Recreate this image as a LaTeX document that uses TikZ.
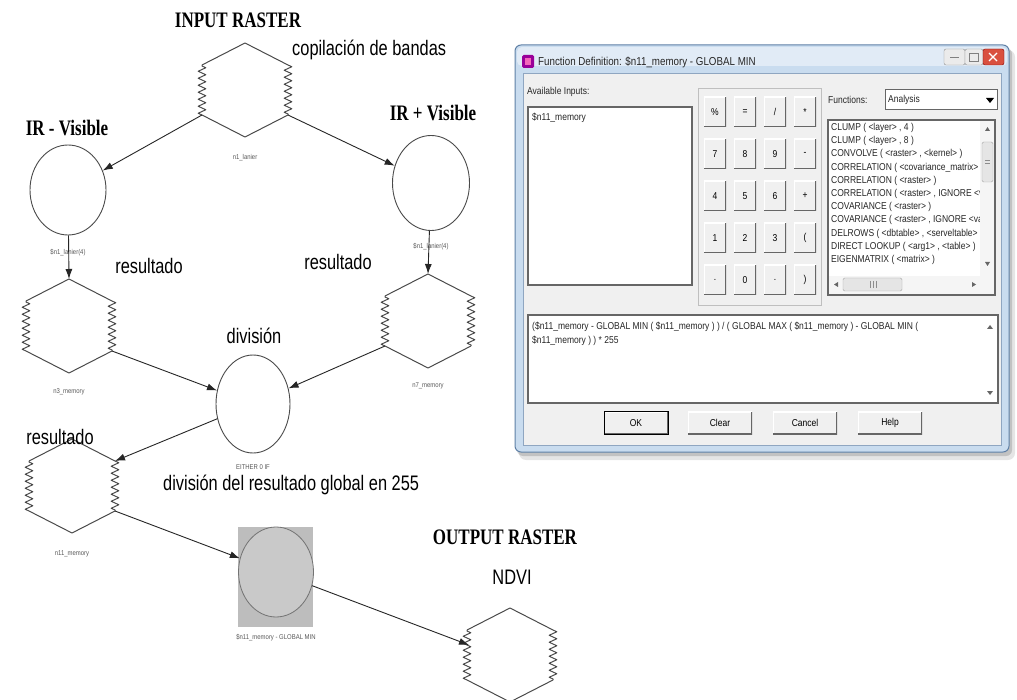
\documentclass[tikz,border=0pt]{standalone}
\usepackage{fontspec}
\setmainfont{Liberation Serif}
\newfontfamily\narrow[FakeStretch=0.78]{Liberation Sans}
\newfontfamily\uif[FakeStretch=0.85]{Liberation Sans}
\usetikzlibrary{shapes.geometric,arrows.meta,decorations.pathmorphing}
\definecolor{hexc}{HTML}{4A4A4A}
\definecolor{frameblue}{HTML}{C9DCEF}
\definecolor{frameline}{HTML}{5F80A6}
\definecolor{client}{HTML}{F0F0F0}
\definecolor{closered}{HTML}{D9503F}
\definecolor{gfill}{HTML}{BDBDBD}
\definecolor{efill}{HTML}{C9C9C9}
\tikzset{
  hexline/.style={draw=hexc, line width=1pt, line join=round},
  zz/.style={decorate, decoration={zigzag, segment length=7pt, amplitude=3.8pt}},
  raster/.pic={
    \coordinate (-t) at (0,-47);
    \coordinate (-b) at (0,47);
    \coordinate (-ul) at (-43,-25);
    \coordinate (-ur) at (43,-25);
    \coordinate (-ll) at (-43,25);
    \coordinate (-lr) at (43,25);
    \coordinate (-lin) at (-41,-10);
    \draw[hexline] (-43,-25) -- (0,-47) -- (43,-25);
    \draw[hexline,zz] (43,-25) -- (43,25);
    \draw[hexline] (43,25) -- (0,47) -- (-43,25);
    \draw[hexline,zz] (-43,25) -- (-43,-25);
  },
  circ/.style={ellipse, draw=hexc, line width=0.9pt, inner sep=0pt},
  arr/.style={draw=black!85, line width=0.9pt, -{Latex[length=10pt,width=7pt]}},
  ttl/.style={font=\fontsize{17}{20}\selectfont\bfseries, inner sep=0pt},
  nar/.style={font=\narrow\fontsize{21}{24}\selectfont, inner sep=0pt},
  sml/.style={font=\uif\fontsize{7}{8}\selectfont, text=black!65, inner sep=0pt},
  ui/.style={font=\uif\fontsize{10}{12}\selectfont, inner sep=0pt, text=black!85},
  key/.style={font=\uif\fontsize{10}{12}\selectfont, minimum width=22pt, minimum height=30pt,
    inner sep=0pt, fill=client,
    path picture={
      \draw[white, line width=2pt] (path picture bounding box.south west) -- (path picture bounding box.north west) -- (path picture bounding box.north east);
      \draw[black!60, line width=2.4pt] (path picture bounding box.south west) -- (path picture bounding box.south east) -- (path picture bounding box.north east);}},
  btn/.style={font=\uif\fontsize{10}{12}\selectfont, minimum width=64pt, minimum height=23pt,
    inner sep=0pt, fill=client,
    path picture={
      \draw[white, line width=2pt] (path picture bounding box.south west) -- (path picture bounding box.north west) -- (path picture bounding box.north east);
      \draw[black!60, line width=2.4pt] (path picture bounding box.south west) -- (path picture bounding box.south east) -- (path picture bounding box.north east);}},
  box/.style={draw=black!60, line width=1.3pt, fill=white},
}
\begin{document}
\begin{tikzpicture}[x=1pt,y=-1pt]
\useasboundingbox (0,0) rectangle (1017,700);
\clip (0,0) rectangle (1017,700);
\fill[white] (0,0) rectangle (1017,700);

% ---------------- model diagram ----------------
\pic (inr) at (245,90) {raster};
\pic (n3) at (69,326) {raster};
\pic (n7) at (428,321) {raster};
\pic (n11) at (72,486) {raster};
\pic (ndvi) at (510,655) {raster};

\node[circ, minimum width=76pt, minimum height=90pt] (irv) at (68,190) {};
\node[circ, minimum width=77pt, minimum height=95pt] (irp) at (431,183) {};
\node[circ, minimum width=74pt, minimum height=98pt] (div) at (253,404) {};
\node[fill=gfill, minimum width=75pt, minimum height=100pt, inner sep=0pt] (gmin) at (275.5,577) {};
\node[ellipse, fill=efill, draw=black!55, line width=0.8pt, inner sep=0pt, minimum width=75pt, minimum height=90pt] (gminE) at (276,572) {};

% small labels
\node[sml] (l1) at (245,158) {n1\_lanier};
\node[sml] (l2) at (68,253) {\$n1\_lanier(4)};
\node[sml] (l3) at (431,247) {\$n1\_lanier(4)};
\node[sml] (l4) at (69,392) {n3\_memory};
\node[sml] (l5) at (428,386) {n7\_memory};
\node[sml] (l6) at (253,467) {EITHER 0 IF};
\node[sml] (l7) at (72,554) {n11\_memory};
\node[sml] (l8) at (276,638) {\$n11\_memory - GLOBAL MIN};

% titles
\node[ttl] (tin) at (238,20) {\scalebox{1}[1.3]{INPUT RASTER}};
\node[ttl] (tirv) at (67,128) {\scalebox{1}[1.3]{IR - Visible}};
\node[ttl] (tirp) at (433,113) {\scalebox{1}[1.3]{IR + Visible}};
\node[ttl] (tout) at (505,537) {\scalebox{1}[1.3]{OUTPUT RASTER}};

% annotations
\node[nar, anchor=west] (tcop) at (292,50) {copilación de bandas};
\node[nar] (tres1) at (149,266) {resultado};
\node[nar] (tres2) at (338,262) {resultado};
\node[nar] (tdiv) at (254,336) {división};
\node[nar] (tres3) at (60,437) {resultado};
\node[nar, anchor=west] (tglob) at (163,485) {división del resultado global en 255};
\node[nar] (tndvi) at (512,577) {NDVI};

% connectors
\draw[arr] (inr-ll) -- (irv);
\draw[arr] (inr-lr) -- (irp);
\draw[arr] (irv) -- (n3-t);
\draw[arr] (irp) -- (n7-t);
\draw[arr] (n3-lr) -- (div);
\draw[arr] (n7-ll) -- (div);
\draw[arr] (div) -- (n11-ur);
\draw[arr] (n11-lr) -- (gminE);
\draw[arr] (gminE) -- (ndvi-lin);

% ---------------- dialog window ----------------
\fill[black, opacity=0.10, rounded corners=7pt] (519,50) rectangle (1015,460);
\fill[black, opacity=0.15, rounded corners=6pt] (517,48) rectangle (1012,456);
\draw[fill=frameblue, draw=frameline, line width=1pt, rounded corners=6pt] (515,45) rectangle (1009,452);
\fill[white, opacity=0.45, rounded corners=5pt] (517,47) rectangle (1007,66);
% title icon and text
\fill[violet!80!magenta, rounded corners=1.5pt] (522,55) rectangle (534,68);
\fill[magenta!60!white] (525,58) rectangle (531,65);
\node[font=\uif\fontsize{11.5}{13}\selectfont, inner sep=0pt, anchor=west, text=black!85] (ttitle) at (538,62) {Function Definition: \$n11\_memory - GLOBAL MIN};
% title buttons
\draw[fill=black!8, draw=black!45, rounded corners=2pt] (944,49) rectangle (965,65);
\draw[fill=black!8, draw=black!45, rounded corners=2pt] (965,49) rectangle (983,65);
\draw[fill=closered, draw=red!50!black, rounded corners=2pt] (983,49) rectangle (1004,65);
\draw[black!50, line width=1pt] (950,58) -- (959,58);
\draw[black!50, line width=0.8pt] (969,53) rectangle (978,61);
\draw[white, line width=1.2pt] (989,53) -- (997,61) (989,61) -- (997,53);
% client area
\draw[fill=client, draw=frameline!70] (523,73) rectangle (1001,445);

% available inputs
\node[ui, anchor=west] (tavail) at (527,92) {Available Inputs:};
\draw[box] (528,107) rectangle (692,285);
\node[ui, anchor=west] (tin1) at (532,118) {\$n11\_memory};

% calculator panel
\draw[draw=black!25, fill=client] (698,88) rectangle (821,305);
\foreach \lab [count=\i from 0] in {{\%},{=},{/},{*},{7},{8},{9},{-},{4},{5},{6},{+},{1},{2},{3},{(},{.},{0},{.},{)}} {
  \pgfmathtruncatemacro\col{mod(\i,4)}
  \pgfmathtruncatemacro\row{div(\i,4)}
  \node[key] (k\i) at ({715+30*\col},{112+42*\row}) {\lab};
}

% functions
\node[ui, anchor=west] (tfun) at (828,100) {Functions:};
\draw[box, line width=1pt] (885,90) rectangle (997,110);
\node[ui, anchor=west] (tana) at (888,100) {Analysis};
\fill[black] (986,98) -- (994,98) -- (990,103) -- cycle;
\draw[box] (828,120) rectangle (995,295);
\begin{scope}
  \clip (829,121) rectangle (980,275);
  \foreach \t [count=\j from 0] in {
    {CLUMP ( <layer> , 4 )},
    {CLUMP ( <layer> , 8 )},
    {CONVOLVE ( <raster> , <kernel> )},
    {CORRELATION ( <covariance\_matrix> )},
    {CORRELATION ( <raster> )},
    {CORRELATION ( <raster> , IGNORE <value> )},
    {COVARIANCE ( <raster> )},
    {COVARIANCE ( <raster> , IGNORE <value> )},
    {DELROWS ( <dbtable> , <serveltable> )},
    {DIRECT LOOKUP ( <arg1> , <table> )},
    {EIGENMATRIX ( <matrix> )}} {
    \node[ui, anchor=west] (fl\j) at (831,{128+13.2*\j}) {\t};
  }
\end{scope}
% vertical scrollbar
\fill[black!4] (980,121) rectangle (994,276);
\fill[black!60] (985,131) -- (990,131) -- (987.5,127) -- cycle;
\fill[black!60] (985,262) -- (990,262) -- (987.5,266) -- cycle;
\draw[fill=black!10, draw=black!35, rounded corners=1.5pt] (982,142) rectangle (993,182);
\draw[black!45] (985,160) -- (990,160) (985,163) -- (990,163);
% horizontal scrollbar
\fill[black!4] (829,276) rectangle (994,294);
\fill[black!60] (838,282) -- (838,287) -- (834,284.5) -- cycle;
\fill[black!60] (972,282) -- (972,287) -- (976,284.5) -- cycle;
\draw[fill=black!10, draw=black!35, rounded corners=1.5pt] (843,278) rectangle (902,291);
\draw[black!45] (870,281) -- (870,288) (873,281) -- (873,288) (876,281) -- (876,288);

% expression box
\draw[box] (528,315) rectangle (998,403);
\node[ui, anchor=west] (ex1) at (532,327) {(\$n11\_memory - GLOBAL MIN ( \$n11\_memory ) ) / ( GLOBAL MAX ( \$n11\_memory ) - GLOBAL MIN (};
\node[ui, anchor=west] (ex2) at (532,341) {\$n11\_memory ) ) * 255};
\fill[black!60] (987,329) -- (993,329) -- (990,325) -- cycle;
\fill[black!60] (987,391) -- (993,391) -- (990,395) -- cycle;

% buttons
\node[btn, draw=black, line width=0.9pt] (bok) at (636,423) {OK};
\node[btn] (bclear) at (720,423) {Clear};
\node[btn] (bcancel) at (805,423) {Cancel};
\node[btn] (bhelp) at (890,423) {Help};
\end{tikzpicture}
\end{document}
